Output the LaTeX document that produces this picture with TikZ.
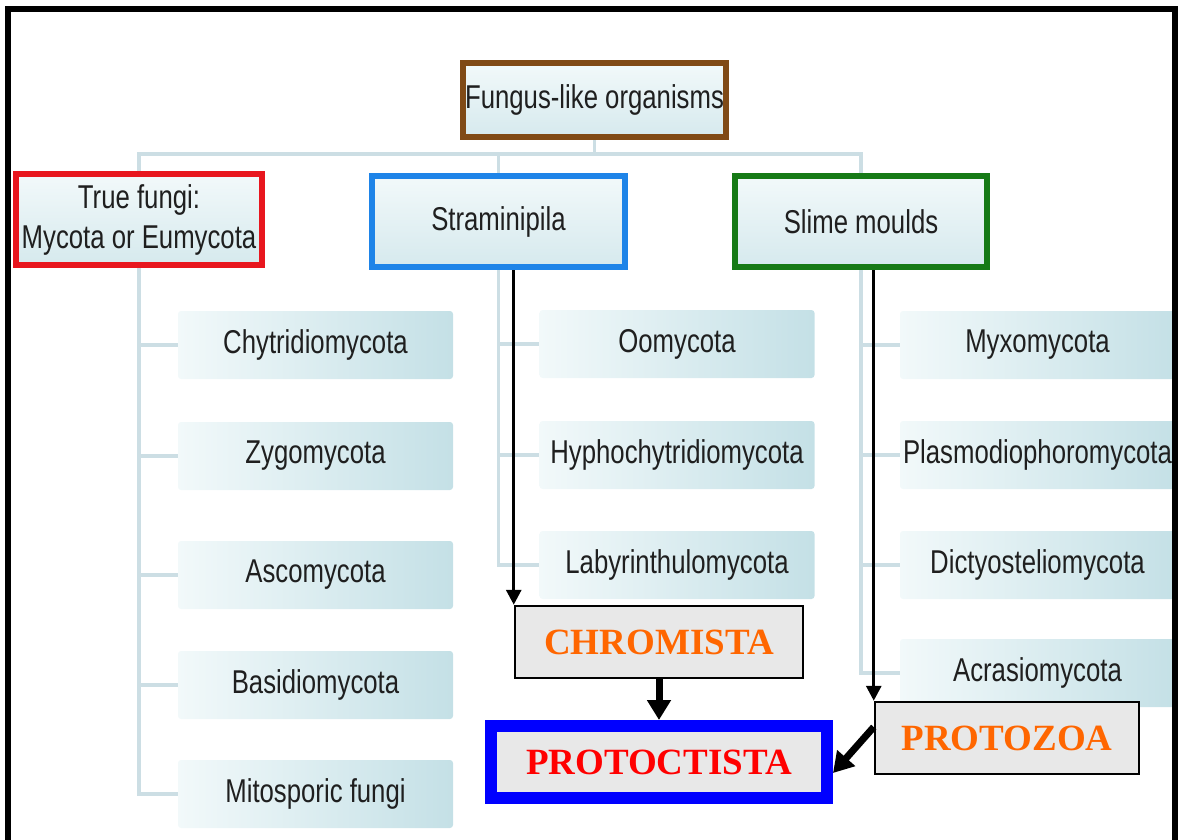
\documentclass[tikz,border=0pt]{standalone}
\usepackage{fontspec}
\usepackage{tikz}
\usetikzlibrary{arrows.meta,backgrounds}
\newfontfamily\orgfont[FakeStretch=0.78]{Liberation Sans}
\newfontfamily\kingfont{Liberation Serif}
\definecolor{fungusbrown}{RGB}{128,74,22}
\definecolor{fungired}{RGB}{232,22,30}
\definecolor{stramblue}{RGB}{30,132,232}
\definecolor{slimegreen}{RGB}{22,122,22}
\definecolor{protoblue}{RGB}{0,0,255}
\definecolor{kingorange}{RGB}{255,102,0}
\definecolor{treegray}{RGB}{204,222,228}
\definecolor{boxgray}{RGB}{232,232,232}
\definecolor{paleleft}{RGB}{242,249,250}
\definecolor{paleright}{RGB}{196,224,230}
\newcommand{\groupwd}{6pt}
\newcommand{\treewd}{3.5pt}
\tikzset{
  orgtext/.style={font=\orgfont\fontsize{33}{40}\selectfont, text=black!88, align=center, inner sep=0pt},
  groupbox/.style={orgtext, line width=\groupwd, top color=paleleft, bottom color=paleright!70!white, minimum height=91pt},
  childbox/.style={orgtext, rounded corners=3pt, left color=paleleft, right color=paleright, minimum width=275pt, minimum height=68pt},
  kingbox/.style={draw=black, line width=2.5pt, fill=boxgray, font=\kingfont\bfseries\fontsize{37}{40}\selectfont, text=kingorange, minimum height=72pt, inner sep=0pt},
  treeline/.style={treegray, line width=\treewd},
  thinarrow/.style={line width=3pt, -{Triangle[width=15pt,length=15pt]}},
  thickarrow/.style={line width=7pt, -{Triangle[width=23pt,length=20pt]}}
}
\begin{document}
\begin{tikzpicture}[x=1pt,y=1pt]
\useasboundingbox (0,0) rectangle (1178,-839);
%groups
\node[groupbox, draw=fungusbrown, minimum width=263pt, minimum height=74pt] (fungus) at (594.5,-100) {Fungus-like organisms};
\node[groupbox, draw=fungired, minimum width=246pt] (fungi) at (139,-219.5) {True fungi:\\Mycota or Eumycota};
\node[groupbox, draw=stramblue, minimum width=253pt] (stramin) at (498.5,-221.5) {Straminipila};
\node[groupbox, draw=slimegreen, minimum width=252pt] (slime) at (861,-221.5) {Slime moulds};
%fungi
\node[childbox] (chytrid) at (315.5,-345) {Chytridiomycota};
\node[childbox] (zygo) at (315.5,-456) {Zygomycota};
\node[childbox] (asco) at (315.5,-575) {Ascomycota};
\node[childbox] (basidio) at (315.5,-685) {Basidiomycota};
\node[childbox] (mito) at (315.5,-794) {Mitosporic fungi};
%straminipila
\node[childbox] (oomy) at (677,-344) {Oomycota};
\node[childbox] (hypho) at (677,-455) {Hyphochytridiomycota};
\node[childbox] (laby) at (677,-565) {Labyrinthulomycota};
%slime moulds
\node[childbox] (myxo) at (1037.5,-345) {Myxomycota};
\node[childbox] (plasmo) at (1037.5,-455) {Plasmodiophoromycota};
\node[childbox] (dictyo) at (1037.5,-565) {Dictyosteliomycota};
\node[childbox] (acrasio) at (1037.5,-673) {Acrasiomycota};
\begin{scope}[on background layer]
\draw[treeline] (fungus.south) -- ++(0,-14) -| (fungi.north);
\draw[treeline] (fungus.south) -- ++(0,-14) -| (stramin.north);
\draw[treeline] (fungus.south) -- ++(0,-14) -| (slime.north);
\draw[treeline] (fungi.south) |- (chytrid.west);
\draw[treeline] (fungi.south) |- (zygo.west);
\draw[treeline] (fungi.south) |- (asco.west);
\draw[treeline] (fungi.south) |- (basidio.west);
\draw[treeline] (fungi.south) |- (mito.west);
\draw[treeline] (stramin.south) |- (oomy.west);
\draw[treeline] (stramin.south) |- (hypho.west);
\draw[treeline] (stramin.south) |- (laby.west);
\draw[treeline] (slime.south) |- (myxo.west);
\draw[treeline] (slime.south) |- (plasmo.west);
\draw[treeline] (slime.south) |- (dictyo.west);
\draw[treeline] (slime.south) |- (acrasio.west);
\end{scope}
%kingdoms
\node[kingbox, minimum width=288pt] (chromista) at (659,-642) {CHROMISTA};
\node[kingbox, draw=protoblue, line width=12pt, minimum width=336pt, text=red] (protoctista) at (659,-762) {PROTOCTISTA};
\node[kingbox, minimum width=264pt] (protozoa) at (1007,-738) {PROTOZOA};
\draw[thinarrow] (stramin.south -| chromista.north west) -- (chromista.north west);
\draw[thinarrow] (slime.south -| protozoa.north west) -- (protozoa.north west);
\draw[thickarrow] (chromista.south) -- (protoctista.north);
\draw[thickarrow] ([yshift=11pt]protozoa.west) -- ([yshift=-11pt]protoctista.east);
%frame
\draw[line width=6.5pt] (8,-850) -- (8,-9) -- (1175,-9) -- (1175,-850);
\end{tikzpicture}
\end{document}
